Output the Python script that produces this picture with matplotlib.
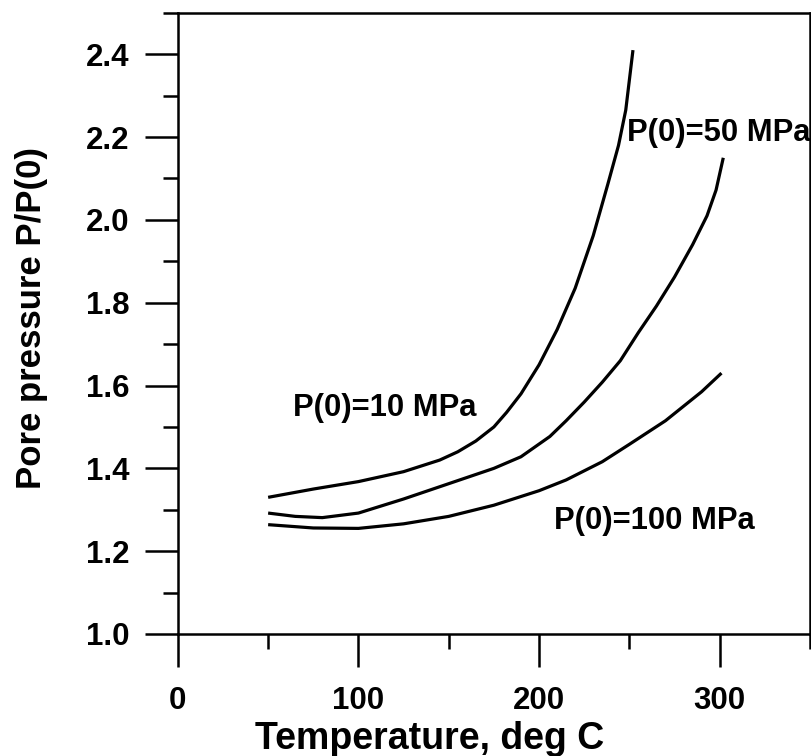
# pore pressure ratio vs temperature for three initial pressures

import matplotlib
matplotlib.use('Agg')
import matplotlib.pyplot as plt
from matplotlib.ticker import MultipleLocator

# values
temp_10 = [50, 75, 100, 125, 145, 155, 165, 175, 182, 190, 200, 210, 220, 230, 238, 244, 248, 252]
ratio_10 = [1.330, 1.350, 1.368, 1.392, 1.420, 1.440, 1.466, 1.500, 1.535, 1.580, 1.650,
			1.735, 1.835, 1.962, 2.085, 2.180, 2.265, 2.410]

temp_50 = [50, 65, 80, 100, 125, 150, 175, 190, 206, 215, 225, 235, 245, 255, 265, 275,
		   285, 293, 298, 302]
ratio_50 = [1.292, 1.284, 1.281, 1.292, 1.326, 1.363, 1.400, 1.428, 1.477, 1.515, 1.560,
			1.608, 1.660, 1.728, 1.792, 1.862, 1.940, 2.010, 2.072, 2.150]

temp_100 = [50, 75, 100, 125, 150, 175, 200, 215, 235, 250, 270, 290, 301]
ratio_100 = [1.264, 1.256, 1.255, 1.266, 1.284, 1.311, 1.346, 1.372, 1.416, 1.458,
			 1.515, 1.585, 1.630]

labels = ['P(0)=10 MPa', 'P(0)=50 MPa', 'P(0)=100 MPa']
label_pos = [(64, 1.545), (248.5, 2.209), (208, 1.273)]

x_ticks = [0, 100, 200, 300]
y_ticks = [1.0, 1.2, 1.4, 1.6, 1.8, 2.0, 2.2, 2.4]


def main():
	plt.rcParams['font.family'] = ['Liberation Sans', 'DejaVu Sans']
	plt.rcParams['font.weight'] = 'bold'

	fig = plt.figure(figsize=(8.12, 7.56), dpi=100)
	ax = fig.add_axes([0.219, 0.1614, 0.7785, 0.8216])

	for t, r in [(temp_10, ratio_10), (temp_50, ratio_50), (temp_100, ratio_100)]:
		ax.plot(t, r, color='black', lw=2.3, solid_capstyle='butt', solid_joinstyle='round')

	for text, (tx, ty) in zip(labels, label_pos):
		ax.text(tx, ty, text, fontsize=22.3, fontweight='bold', ha='left', va='center')

	ax.set_xlim(0, 350)
	ax.set_ylim(1.0, 2.5)
	ax.set_xticks(x_ticks)
	ax.set_yticks(y_ticks)
	ax.set_yticklabels(['%.1f' % v for v in y_ticks])
	ax.xaxis.set_minor_locator(MultipleLocator(50))
	ax.yaxis.set_minor_locator(MultipleLocator(0.1))

	ax.tick_params(which='major', direction='out', length=23.8, width=1.8,
				   labelsize=22.5, pad=14)
	ax.tick_params(which='minor', direction='out', length=11, width=1.8)
	ax.tick_params(axis='y', which='major', pad=11)

	for s in ax.spines.values():
		s.set_linewidth(1.8)

	ax.set_xlabel('Temperature, deg C', fontsize=27, fontweight='bold')
	ax.set_ylabel('Pore pressure P/P(0)', fontsize=25, fontweight='bold')
	ax.xaxis.set_label_coords(0.399, -0.14)
	ax.yaxis.set_label_coords(-0.206, 0.509)

	fig.savefig('out.png', dpi=100)


if __name__ == '__main__':
	main()
